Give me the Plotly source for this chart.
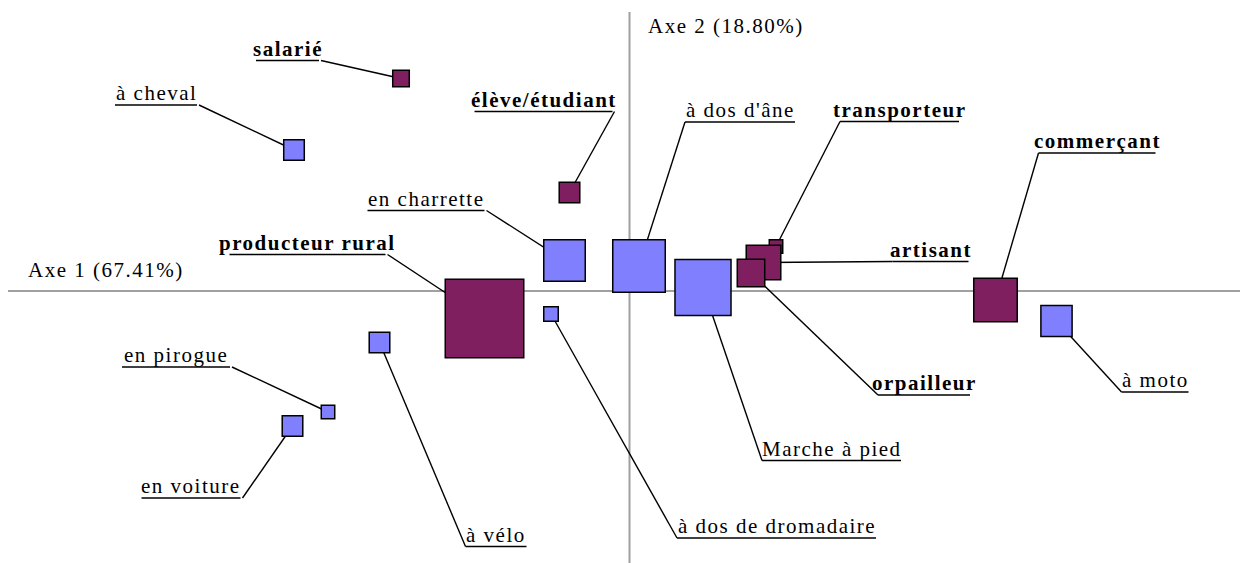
import math
import plotly.graph_objects as go

# ---- data (correspondence analysis coordinates, axis 1 and axis 2) ----
modes_labels = ["à cheval", "en charrette", "à dos d'âne", "à dos de dromadaire",
                "Marche à pied", "à moto", "à vélo", "en pirogue", "en voiture"]
modes_ax1 = [-0.671, -0.130, 0.019, -0.157, 0.147, 0.854, -0.500, -0.603, -0.674]
modes_ax2 = [0.282, 0.061, 0.050, -0.046, 0.007, -0.060, -0.103, -0.242, -0.270]
modes_poids = [7.6, 28.9, 45.6, 4.0, 51.7, 16.7, 7.6, 3.5, 7.6]

prof_labels = ["salarié", "élève/étudiant", "producteur rural", "transporteur",
               "artisant", "orpailleur", "commerçant"]
prof_ax1 = [-0.457, -0.120, -0.290, 0.293, 0.268, 0.243, 0.732]
prof_ax2 = [0.425, 0.197, -0.055, 0.089, 0.057, 0.036, -0.018]
prof_poids = [5.1, 7.6, 100.0, 3.5, 20.3, 13.1, 31.6]

axis_titles = ["Axe 1 (67.41%)", "Axe 2 (18.80%)"]

# ---- label layout (pixel offsets from the point: underline x0, x1, y (up +), leader end) ----
label_layout = {
    "salarié": (-145, -82, 18, "R"),
    "à cheval": (-179, -97, 45, "R"),
    "élève/étudiant": (-95, 43, 81, "R"),
    "en charrette": (-197, -80, 50, "R"),
    "à dos d'âne": (46, 156, 144, "L"),
    "transporteur": (64, 183, 125, "L"),
    "commerçant": (43, 160, 147, "L"),
    "producteur rural": (-255, -99, 64, "R"),
    "artisant": (129, 205, 1, "L"),
    "orpailleur": (127, 219, -122, "L"),
    "à moto": (65, 132, -71, "L"),
    "Marche à pied": (59, 198, -173, "L"),
    "à dos de dromadaire": (126, 325, -224, "L"),
    "à vélo": (86, 147, -204, "L"),
    "en pirogue": (-206, -98, 45, "R"),
    "en voiture": (-151, -52, -72, "R"),
}

BLUE = "#8080FF"
PURPLE = "#7F1F5F"
FONT = "Liberation Serif"
PX_PER_UNIT = 500.0
W, H = 1247, 563
X0_PX, Y0_PX = 629.5, 291.0


def side(p):
    return 8.0 * math.sqrt(p) - 1.5


fig = go.Figure()
fig.add_trace(go.Scatter(
    x=modes_ax1, y=modes_ax2, mode="markers", hoverinfo="skip",
    marker=dict(symbol="square", size=[side(p) for p in modes_poids], color=BLUE,
                line=dict(color="black", width=1.5), opacity=1)))
fig.add_trace(go.Scatter(
    x=prof_ax1, y=prof_ax2, mode="markers", hoverinfo="skip",
    marker=dict(symbol="square", size=[side(p) for p in prof_poids], color=PURPLE,
                line=dict(color="black", width=1.5), opacity=1)))

shapes = []
annotations = []

# axes lines
shapes.append(dict(type="line", xref="paper", yref="y", x0=8 / W, x1=1240 / W, y0=0, y1=0,
                   line=dict(color="#A0A0A0", width=2), layer="below"))
shapes.append(dict(type="line", xref="x", yref="paper", x0=0, x1=0, y0=0, y1=1 - 12 / H,
                   line=dict(color="#A0A0A0", width=2), layer="below"))


def spaced(t, bold=False):
    s = '<span style="letter-spacing:1.5px">' + t + '</span>'
    return "<b>" + s + "</b>" if bold else s


def add_label(name, x, y, bold):
    ux0, ux1, uy, conn = label_layout[name]
    cx = ux1 + 2 if conn == "R" else ux0
    shapes.append(dict(type="line", xref="x", yref="y",
                       xsizemode="pixel", ysizemode="pixel", xanchor=x, yanchor=y,
                       x0=cx, x1=0, y0=uy, y1=0,
                       line=dict(color="black", width=1.4), layer="below"))
    shapes.append(dict(type="line", xref="x", yref="y",
                       xsizemode="pixel", ysizemode="pixel", xanchor=x, yanchor=y,
                       x0=ux0, x1=ux1, y0=uy, y1=uy,
                       line=dict(color="black", width=1.6), layer="below"))
    annotations.append(dict(x=x, y=y, xref="x", yref="y", showarrow=False,
                            text=spaced(name, bold), xanchor="center", yanchor="bottom",
                            xshift=(ux0 + ux1) / 2, yshift=uy - 2,
                            font=dict(family=FONT, size=21, color="black")))


for n, x, y in zip(modes_labels, modes_ax1, modes_ax2):
    add_label(n, x, y, False)
for n, x, y in zip(prof_labels, prof_ax1, prof_ax2):
    add_label(n, x, y, True)

annotations.append(dict(x=26 / W, y=1 - 284 / H, xref="paper", yref="paper", showarrow=False,
                        text=spaced(axis_titles[0]), xanchor="left", yanchor="bottom",
                        font=dict(family=FONT, size=21, color="black")))
annotations.append(dict(x=646 / W, y=1 - 40 / H, xref="paper", yref="paper", showarrow=False,
                        text=spaced(axis_titles[1]), xanchor="left", yanchor="bottom",
                        font=dict(family=FONT, size=21, color="black")))

fig.update_layout(
    width=W, height=H, margin=dict(l=0, r=0, t=0, b=0),
    paper_bgcolor="white", plot_bgcolor="white", showlegend=False,
    xaxis=dict(range=[-X0_PX / PX_PER_UNIT, (W - X0_PX) / PX_PER_UNIT], visible=False,
               showgrid=False, zeroline=False, fixedrange=True),
    yaxis=dict(range=[-(H - Y0_PX) / PX_PER_UNIT, Y0_PX / PX_PER_UNIT], visible=False,
               showgrid=False, zeroline=False, fixedrange=True),
    shapes=shapes, annotations=annotations, hovermode=False,
)

fig.write_html("out.html", config={"displayModeBar": False},
               post_script="document.body.style.margin='0px';document.body.style.overflow='hidden';")
